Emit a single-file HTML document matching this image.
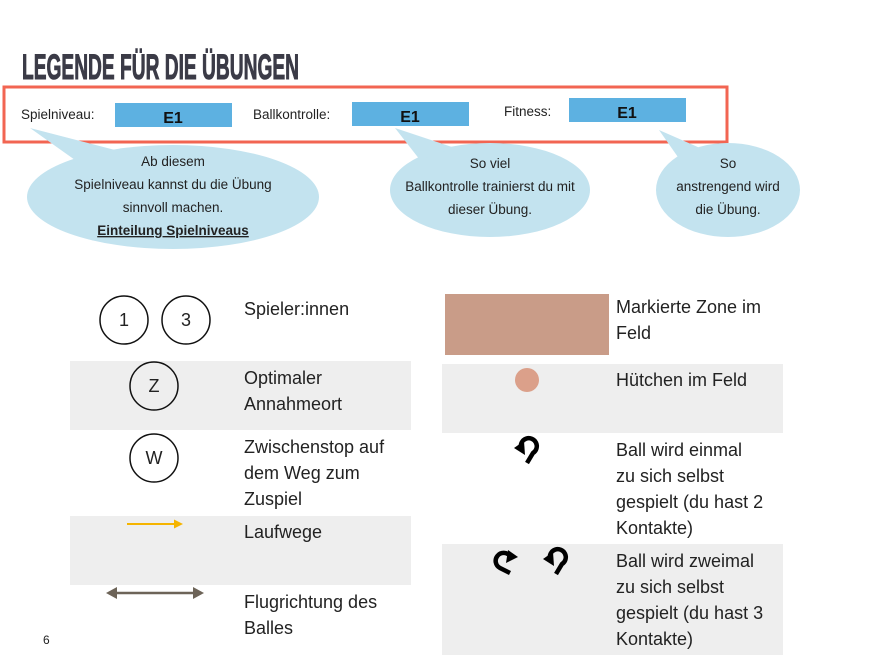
<!DOCTYPE html>
<html><head><meta charset="utf-8"><style>
html,body{margin:0;padding:0;background:#fff;width:885px;height:658px;overflow:hidden}
svg{display:block}
text{font-family:"Liberation Sans",sans-serif;fill:#222}
</style></head><body>
<svg width="885" height="658" viewBox="0 0 885 658" xmlns="http://www.w3.org/2000/svg">
<text x="22" y="79" font-family="Liberation Sans Narrow, Liberation Sans, sans-serif" font-weight="bold" font-size="35" style="fill:#3b3b47;stroke:#3b3b47;stroke-width:1" textLength="277" lengthAdjust="spacingAndGlyphs">LEGENDE FÜR DIE ÜBUNGEN</text>
<rect x="4" y="87" width="723" height="55" fill="none" stroke="#f26552" stroke-width="3"/>
<text x="21" y="119" font-size="13.5">Spielniveau:</text>
<text x="253" y="119" font-size="13.5">Ballkontrolle:</text>
<text x="504" y="116" font-size="13.5">Fitness:</text>
<rect x="115" y="103" width="117" height="24" fill="#5db1e1"/>
<rect x="352" y="102" width="117" height="24" fill="#5db1e1"/>
<rect x="569" y="98" width="117" height="24" fill="#5db1e1"/>
<text x="173" y="123" font-size="16" font-weight="bold" text-anchor="middle" style="fill:#111">E1</text>
<text x="410" y="122" font-size="16" font-weight="bold" text-anchor="middle" style="fill:#111">E1</text>
<text x="627" y="118" font-size="16" font-weight="bold" text-anchor="middle" style="fill:#111">E1</text>
<g fill="#c3e3ef">
<ellipse cx="173" cy="197" rx="146" ry="52"/>
<polygon points="30,128 75,160 115,150"/>
<ellipse cx="490" cy="190" rx="100" ry="47"/>
<polygon points="395,128 420,160 455,148"/>
<ellipse cx="728" cy="190" rx="72" ry="47"/>
<polygon points="659,130 680,160 700,148"/>
</g>
<g font-size="13.5" text-anchor="middle">
<text x="173" y="166">Ab diesem</text>
<text x="173" y="189">Spielniveau kannst du die Übung</text>
<text x="173" y="212">sinnvoll machen.</text>
<text x="173" y="235" font-weight="bold" text-decoration="underline">Einteilung Spielniveaus</text>
<text x="490" y="168">So viel</text>
<text x="490" y="191">Ballkontrolle trainierst du mit</text>
<text x="490" y="214">dieser Übung.</text>
<text x="728" y="168">So</text>
<text x="728" y="191">anstrengend wird</text>
<text x="728" y="214">die Übung.</text>
</g>
<rect x="70" y="361" width="341" height="69" fill="#eeeeee"/>
<rect x="70" y="516" width="341" height="69" fill="#eeeeee"/>
<rect x="442" y="364" width="341" height="69" fill="#eeeeee"/>
<rect x="442" y="544" width="341" height="111" fill="#eeeeee"/>
<g fill="none" stroke="#111" stroke-width="1.5">
<circle cx="124" cy="320" r="24"/><circle cx="186" cy="320" r="24"/>
<circle cx="154" cy="386" r="24"/><circle cx="154" cy="458" r="24"/>
</g>
<g font-size="18" text-anchor="middle">
<text x="124" y="326">1</text><text x="186" y="326">3</text>
<text x="154" y="392">Z</text><text x="154" y="464">W</text>
</g>
<line x1="127" y1="524" x2="175" y2="524" stroke="#f5b400" stroke-width="2"/>
<polygon points="183,524 174,519.5 174,528.5" fill="#f5b400"/>
<line x1="115" y1="593" x2="195" y2="593" stroke="#6d6458" stroke-width="2.5"/>
<polygon points="106,593 117,587 117,599" fill="#6d6458"/>
<polygon points="204,593 193,587 193,599" fill="#6d6458"/>
<rect x="445" y="294" width="164" height="61" fill="#c99c88"/>
<circle cx="527" cy="380" r="12" fill="#dba08a"/>
<g fill="none" stroke="#000" stroke-width="4.5">
<path d="M527 463 L533 453 A8 8 0 1 0 521 448"/>
<path d="M556 574 L562 564 A8 8 0 1 0 550 559"/>
<path d="M510 573 L500 568 A8 8 0 1 1 510 556"/>
</g>
<g fill="#000">
<polygon points="514,448 524,441 525,455"/>
<polygon points="543,559 553,552 554,566"/>
<polygon points="518,557 508,550 506,563"/>
</g>
<g font-size="18">
<text x="244" y="315">Spieler:innen</text>
<text x="244" y="384">Optimaler</text><text x="244" y="410">Annahmeort</text>
<text x="244" y="453">Zwischenstop auf</text><text x="244" y="479">dem Weg zum</text><text x="244" y="505">Zuspiel</text>
<text x="244" y="538">Laufwege</text>
<text x="244" y="608">Flugrichtung des</text><text x="244" y="634">Balles</text>
<text x="616" y="313">Markierte Zone im</text><text x="616" y="339">Feld</text>
<text x="616" y="386">Hütchen im Feld</text>
<text x="616" y="456">Ball wird einmal</text><text x="616" y="482">zu sich selbst</text><text x="616" y="508">gespielt (du hast 2</text><text x="616" y="534">Kontakte)</text>
<text x="616" y="567">Ball wird zweimal</text><text x="616" y="593">zu sich selbst</text><text x="616" y="619">gespielt (du hast 3</text><text x="616" y="645">Kontakte)</text>
</g>
<text x="43" y="644" font-size="12">6</text>
</svg>
</body></html>
